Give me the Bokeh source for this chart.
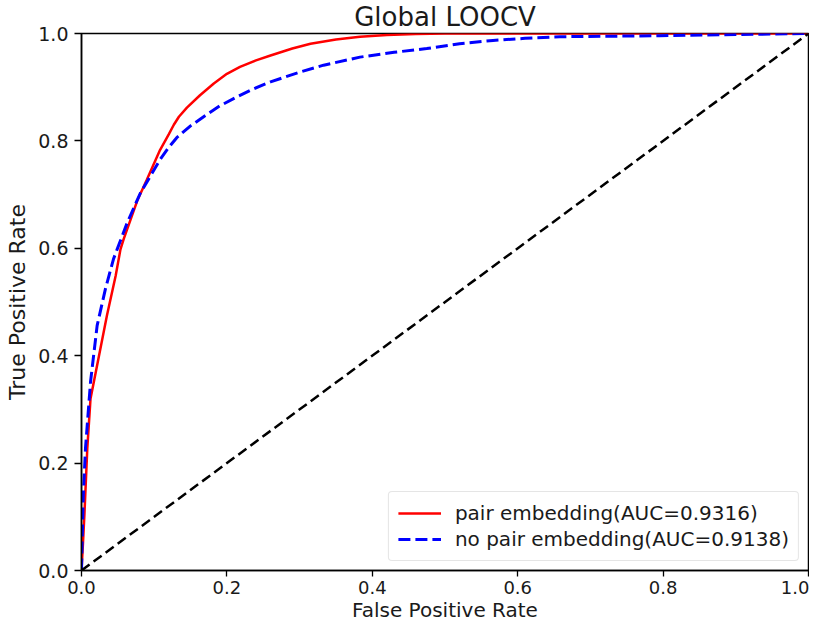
from bokeh.plotting import figure
from bokeh.models import Range1d, Legend, LegendItem, FixedTicker
from bokeh.embed import file_html
from bokeh.resources import INLINE

# ROC data
fpr_pair = [0, 0.002, 0.004, 0.008, 0.0124, 0.0215, 0.035, 0.047, 0.0536, 0.058,
            0.0765, 0.090, 0.108, 0.12, 0.127, 0.134, 0.145, 0.163, 0.182, 0.2, 0.218,
            0.24, 0.26, 0.29, 0.315, 0.35, 0.383, 0.42, 0.46, 0.5, 1.0]
tpr_pair = [0, 0.05, 0.104, 0.228, 0.32, 0.382, 0.475, 0.549, 0.598, 0.617,
            0.688, 0.728, 0.783, 0.812, 0.83, 0.845, 0.862, 0.885, 0.907, 0.925, 0.938,
            0.95, 0.959, 0.972, 0.981, 0.989, 0.994, 0.997, 0.999, 1.0, 1.0]

fpr_nopair = [0, 0.001, 0.0023, 0.0055, 0.0124, 0.0215, 0.033, 0.044, 0.049, 0.063,
              0.081, 0.095, 0.108, 0.12, 0.131, 0.15, 0.168, 0.19, 0.214, 0.235, 0.26,
              0.3, 0.333, 0.383, 0.43, 0.475, 0.52, 0.566, 0.61, 0.658, 0.73,
              0.795, 0.9, 1.0]
tpr_nopair = [0, 0.06, 0.135, 0.228, 0.351, 0.456, 0.525, 0.58, 0.598, 0.648,
              0.703, 0.735, 0.765, 0.788, 0.806, 0.828, 0.845, 0.865, 0.882, 0.896, 0.910,
              0.928, 0.941, 0.956, 0.965, 0.972, 0.981, 0.987, 0.991, 0.994, 0.995,
              0.996, 0.998, 1.0]

diag_x = [0, 1]
diag_y = [0, 1]

labels = ["pair embedding(AUC=0.9316)", "no pair embedding(AUC=0.9138)"]
ticks = [0.0, 0.2, 0.4, 0.6, 0.8, 1.0]

FONT = "DejaVu Sans"
TXT = "#1a1a1a"

p = figure(width=809, height=624, output_backend="svg", toolbar_location=None,
           x_range=Range1d(0, 1), y_range=Range1d(0, 1),
           title="Global LOOCV",
           min_border_left=81, min_border_right=1, min_border_top=33, min_border_bottom=51)

p.title.align = "center"
p.title.vertical_align = "top"
p.title.text_font = FONT
p.title.text_font_size = "26px"
p.title.text_font_style = "normal"
p.title.text_color = TXT
p.title.offset = 0
p.title.standoff = 0

p.outline_line_color = "black"
p.outline_line_width = 1.5
p.xgrid.visible = False
p.ygrid.visible = False

for ax in (p.xaxis, p.yaxis):
    ax.axis_label_text_font = FONT
    ax.axis_label_text_font_style = "normal"
    ax.axis_label_text_color = TXT
    ax.major_label_text_font = FONT
    ax.major_label_text_color = TXT
    ax.ticker = FixedTicker(ticks=ticks)
    ax.minor_tick_line_color = None
    ax.major_tick_in = 0
    ax.major_tick_line_width = 1.3
    ax.axis_line_width = 1.5
    ax.axis_line_color = "black"
    ax.major_label_overrides = {t: f"{t:.1f}" for t in ticks}

p.xaxis.axis_label = "False Positive Rate"
p.xaxis.axis_label_text_font_size = "20px"
p.xaxis.axis_label_standoff = 1
p.xaxis.major_label_text_font_size = "18px"
p.xaxis.major_label_standoff = 4
p.xaxis.major_tick_out = 6

p.yaxis.axis_label = "True Positive Rate"
p.yaxis.axis_label_text_font_size = "22px"
p.yaxis.axis_label_standoff = 5
p.yaxis.major_label_text_font_size = "19px"
p.yaxis.major_label_standoff = 6
p.yaxis.major_tick_out = 7

r1 = p.line(fpr_pair, tpr_pair, line_color="red", line_width=2.5)
r2 = p.line(fpr_nopair, tpr_nopair, line_color="blue", line_width=3, line_dash="12 5")
p.line(diag_x, diag_y, line_color="black", line_width=2.5, line_dash="10 5")

legend = Legend(items=[LegendItem(label=labels[0], renderers=[r1]),
                       LegendItem(label=labels[1], renderers=[r2])],
                location="bottom_right")
legend.label_text_font = FONT
legend.label_text_font_size = "20px"
legend.label_text_color = TXT
legend.label_height = 24
legend.glyph_height = 24
legend.border_line_color = "#cccccc"
legend.border_line_width = 1.2
legend.border_radius = 4
legend.glyph_width = 43
legend.label_standoff = 14
legend.spacing = 2
legend.padding = 9
legend.margin = 9
legend.background_fill_alpha = 0.85
p.add_layout(legend)

open("out.html", "w").write(file_html(p, INLINE))
